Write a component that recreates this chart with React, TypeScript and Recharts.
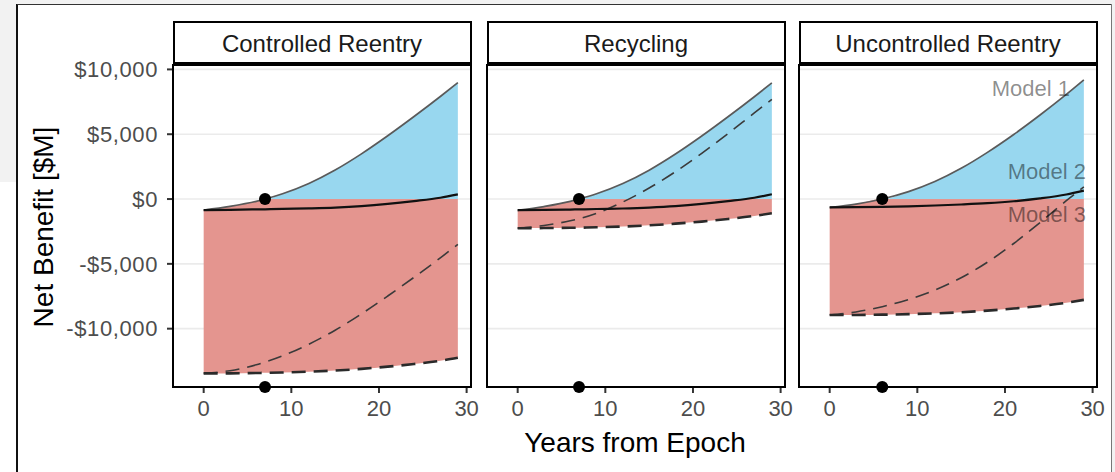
import React from "react";
import {
  ComposedChart,
  Area,
  Line,
  XAxis,
  YAxis,
  CartesianGrid,
  ReferenceDot,
} from "recharts";

// facet titles and break-even year (black dot) per facet
const panelTitles = ["Controlled Reentry", "Recycling", "Uncontrolled Reentry"];
const breakEvenYears = [7, 7, 6];

// Controlled Reentry
const yearsControlled = [0, 3, 6, 7, 9, 12, 15, 18, 21, 24, 27, 29];
const model1Controlled = [-850, -565, -175, 0, 410, 1205, 2240, 3485, 4880, 6365, 7910, 8980];
const model2Controlled = [-850, -830, -800, -790, -760, -720, -660, -550, -380, -160, 100, 360];
const model3UpperControlled = [-13450, -13240, -12790, -12580, -12100, -11200, -10120, -8860, -7480, -6040, -4540, -3500];
const model3LowerControlled = [-13450, -13450, -13420, -13410, -13380, -13320, -13230, -13100, -12930, -12730, -12480, -12250];

// Recycling
const yearsRecycling = [0, 3, 6, 7, 9, 12, 15, 18, 21, 24, 27, 29];
const model1Recycling = [-880, -580, -180, 0, 405, 1195, 2225, 3470, 4860, 6345, 7890, 8960];
const model2Recycling = [-860, -840, -810, -800, -770, -730, -660, -550, -380, -160, 100, 370];
const model3UpperRecycling = [-2250, -2040, -1680, -1520, -1100, -230, 850, 2110, 3520, 5050, 6640, 7680];
const model3LowerRecycling = [-2250, -2240, -2220, -2210, -2180, -2120, -2030, -1900, -1740, -1540, -1300, -1100];

// Uncontrolled Reentry
const yearsUncontrolled = [0, 3, 6, 9, 12, 15, 18, 21, 24, 27, 29];
const model1Uncontrolled = [-650, -395, 0, 570, 1350, 2370, 3600, 4980, 6480, 8070, 9190];
const model2Uncontrolled = [-650, -630, -600, -560, -500, -420, -320, -170, 50, 350, 650];
const model3UpperUncontrolled = [-8950, -8710, -8305, -7750, -7030, -6070, -4870, -3430, -1810, -130, 940];
const model3LowerUncontrolled = [-8950, -8940, -8920, -8880, -8820, -8730, -8610, -8450, -8250, -8000, -7780];

const yTicks = [-10000, -5000, 0, 5000, 10000];
const xTicks = [0, 10, 20, 30];
const modelLabels = ["Model 1", "Model 2", "Model 3"];

const Y_MIN = -14500;
const Y_MAX = 10340;
const FONT = "'Liberation Sans', Arial, Helvetica, sans-serif";

const buildRows = (
  years: number[],
  m1: number[],
  m2: number[],
  m3u: number[],
  m3l: number[]
) =>
  years.map((year, i) => ({
    year,
    m1: m1[i],
    m2: m2[i],
    m3u: m3u[i],
    m3l: m3l[i],
    blue: [0, Math.max(m1[i], 0)],
    red: [m3l[i], Math.min(m1[i], 0)],
  }));

const panels = [
  buildRows(yearsControlled, model1Controlled, model2Controlled, model3UpperControlled, model3LowerControlled),
  buildRows(yearsRecycling, model1Recycling, model2Recycling, model3UpperRecycling, model3LowerRecycling),
  buildRows(yearsUncontrolled, model1Uncontrolled, model2Uncontrolled, model3UpperUncontrolled, model3LowerUncontrolled),
];

const money = (v: number) =>
  (v < 0 ? "-$" : "$") + Math.abs(v).toLocaleString("en-US");

// plot area left edges of the three facets
const plotLefts = [173, 487, 799];
const PLOT_W = 298;
const PLOT_TOP = 65;
const PLOT_BOTTOM = 387;

function Panel({ idx }: { idx: number }) {
  const first = idx === 0;
  const chartLeft = first ? 0 : plotLefts[idx];
  const width = first ? 483 : 312;
  const right = width - (plotLefts[idx] + PLOT_W - chartLeft);
  const year = breakEvenYears[idx];
  return (
    <div style={{ position: "absolute", left: chartLeft, top: 0 }}>
      <ComposedChart
        width={width}
        height={472}
        data={panels[idx]}
        margin={{ top: PLOT_TOP, right, bottom: 472 - PLOT_BOTTOM - 40, left: 0 }}
      >
        <CartesianGrid vertical={false} stroke="#ebebeb" strokeWidth={1.6} />
        <XAxis
          dataKey="year"
          type="number"
          domain={[-3.5, 30.5]}
          ticks={xTicks}
          allowDataOverflow
          axisLine={false}
          tickLine={{ stroke: "#333", strokeWidth: 2 }}
          tickSize={6}
          tickMargin={7}
          height={40}
          tick={{ fill: "#4d4d4d", fontSize: 22, fontFamily: FONT }}
        />
        <YAxis
          type="number"
          domain={[Y_MIN, Y_MAX]}
          ticks={yTicks}
          allowDataOverflow
          hide={!first}
          width={first ? 173 : 0}
          axisLine={false}
          tickLine={{ stroke: "#333", strokeWidth: 2 }}
          tickSize={6}
          tickMargin={9}
          tickFormatter={money}
          tick={{ fill: "#4d4d4d", fontSize: 22, fontFamily: FONT, letterSpacing: 0.6 }}
        />
        <Area dataKey="red" type="monotone" stroke="none" fill="#e4958f" fillOpacity={1} isAnimationActive={false} />
        <Area dataKey="blue" type="monotone" stroke="none" fill="#98d7ef" fillOpacity={1} isAnimationActive={false} />
        <Line dataKey="m3u" type="monotone" stroke="#3a3a3a" strokeWidth={1.6} strokeDasharray="14 8" dot={false} isAnimationActive={false} />
        <Line dataKey="m3l" type="monotone" stroke="#2a2a2a" strokeWidth={2.6} strokeDasharray="14 8" dot={false} isAnimationActive={false} />
        <Line dataKey="m1" type="monotone" stroke="#5a5a5a" strokeWidth={1.7} dot={false} isAnimationActive={false} />
        <Line dataKey="m2" type="monotone" stroke="#111" strokeWidth={2.2} dot={false} isAnimationActive={false} />
        <ReferenceDot x={year} y={0} r={6} fill="#000" stroke="none" ifOverflow="visible" />
        <ReferenceDot x={year} y={Y_MIN} r={6} fill="#000" stroke="none" ifOverflow="visible" />
      </ComposedChart>
    </div>
  );
}

export default function App() {
  return (
    <div
      style={{
        position: "absolute",
        left: 0,
        top: 0,
        width: 1115,
        height: 472,
        overflow: "hidden",
        fontFamily: FONT,
      }}
    >
      <svg width={1115} height={472} style={{ position: "absolute", left: 0, top: 0 }}>
        <rect x={0} y={0} width={1115} height={472} fill="#f2f2f2" />
        <rect x={0} y={182} width={17} height={290} fill="#fff" />
        <rect x={17} y={4} width={1095} height={468} fill="#fff" />
        <line x1={17} y1={4} x2={17} y2={472} stroke="#111" strokeWidth={2} />
        <line x1={17} y1={4.5} x2={1112} y2={4.5} stroke="#333" strokeWidth={1} />
        <line x1={1111.5} y1={4} x2={1111.5} y2={472} stroke="#777" strokeWidth={1} />
      </svg>
      {[0, 1, 2].map((i) => (
        <Panel key={i} idx={i} />
      ))}
      <svg
        width={1115}
        height={472}
        style={{ position: "absolute", left: 0, top: 0, pointerEvents: "none" }}
        fontFamily={FONT}
      >
        {plotLefts.map((x, i) => (
          <g key={i}>
            <rect x={x + 1} y={22} width={PLOT_W - 1} height={41} fill="#fff" stroke="#000" strokeWidth={2} />
            <text x={x + PLOT_W / 2} y={52} textAnchor="middle" fontSize={24} fill="#1a1a1a">
              {panelTitles[i]}
            </text>
            <rect x={x} y={PLOT_TOP} width={PLOT_W} height={PLOT_BOTTOM - PLOT_TOP} fill="none" stroke="#000" strokeWidth={2} />
          </g>
        ))}
        <text x={1070} y={96} textAnchor="end" fontSize={22} fill="#000" fillOpacity={0.45}>
          {modelLabels[0]}
        </text>
        <text x={1086} y={179} textAnchor="end" fontSize={22} fill="#000" fillOpacity={0.45}>
          {modelLabels[1]}
        </text>
        <text x={1086} y={222} textAnchor="end" fontSize={22} fill="#000" fillOpacity={0.45}>
          {modelLabels[2]}
        </text>
        <text x={635} y={452} textAnchor="middle" fontSize={28} fill="#000">
          Years from Epoch
        </text>
        <text
          x={0}
          y={0}
          transform="translate(53,227) rotate(-90)"
          textAnchor="middle"
          fontSize={28}
          fill="#000"
        >
          Net Benefit [$M]
        </text>
      </svg>
    </div>
  );
}
